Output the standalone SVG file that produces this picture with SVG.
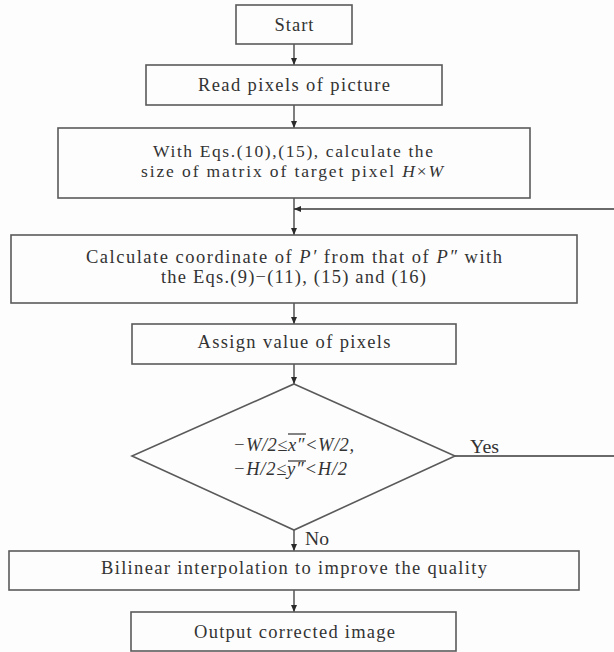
<svg xmlns="http://www.w3.org/2000/svg" width="614" height="652" viewBox="0 0 614 652">
<style>
.box{fill:#fdfdfd;stroke:#5a5a5a;stroke-width:1.6}
.t{font-family:"Liberation Serif","Times New Roman",serif;font-size:18.5px;fill:#333;text-anchor:middle}
.tl{font-family:"Liberation Serif","Times New Roman",serif;font-size:18.5px;fill:#333}
.s{font-size:17.5px}
.i{font-style:italic}
.c{fill:none;stroke:#3a3a3a;stroke-width:1.3}
</style>
<defs>
<marker id="ah" markerUnits="userSpaceOnUse" markerWidth="8" markerHeight="8" refX="7" refY="4" orient="auto">
<path d="M0,1 L7,4 L0,7 Z" fill="#2a2a2a"/>
</marker>
</defs>
<rect width="614" height="652" fill="#fdfdfd"/>
<g id="connectors">
<line class="c" x1="294" y1="44" x2="294" y2="65" marker-end="url(#ah)"/>
<line class="c" x1="294" y1="105" x2="294" y2="128" marker-end="url(#ah)"/>
<line class="c" x1="294" y1="198" x2="294" y2="235" marker-end="url(#ah)"/>
<line class="c" x1="294" y1="303" x2="294" y2="324" marker-end="url(#ah)"/>
<line class="c" x1="294" y1="364" x2="294" y2="384" marker-end="url(#ah)"/>
<line class="c" x1="294" y1="530" x2="294" y2="551" marker-end="url(#ah)"/>
<line class="c" x1="294" y1="590" x2="294" y2="612" marker-end="url(#ah)"/>
<path class="c" d="M455,456 H616 V209 H294" marker-end="url(#ah)"/>
<text class="tl" x="470" y="453" textLength="29" lengthAdjust="spacingAndGlyphs">Yes</text>
<text class="tl" x="305" y="545" textLength="24" lengthAdjust="spacingAndGlyphs">No</text>
</g>
<g id="start">
<rect class="box" x="236" y="5" width="116" height="39"/>
<text class="t" x="294" y="31" textLength="39">Start</text>
</g>
<g id="read">
<rect class="box" x="146" y="65" width="296" height="40"/>
<text class="t" x="294" y="91" textLength="192">Read pixels of picture</text>
</g>
<g id="size">
<rect class="box" x="58" y="128" width="472" height="70"/>
<text class="t s" x="293" y="157" textLength="280">With Eqs.(10),(15), calculate the</text>
<text class="t s" x="292" y="177" textLength="302">size of matrix of target pixel <tspan class="i">H</tspan>×<tspan class="i">W</tspan></text>
</g>
<g id="calc">
<rect class="box" x="11" y="235" width="566" height="68"/>
<text class="t" x="294" y="263" textLength="416">Calculate coordinate of <tspan class="i">P′</tspan> from that of <tspan class="i">P″</tspan> with</text>
<text class="t" x="293.5" y="283" textLength="265">the Eqs.(9)−(11), (15) and (16)</text>
</g>
<g id="assign">
<rect class="box" x="132" y="324" width="324" height="40"/>
<text class="t" x="294" y="348" textLength="193">Assign value of pixels</text>
</g>
<g id="decision">
<polygon class="box" points="294,384 455,456 294,530 132,456"/>
<text class="tl i" x="233" y="451" textLength="121">−W/2≤x″&lt;W/2,</text>
<text class="tl i" x="233" y="475" textLength="114">−H/2≤y″&lt;H/2</text>
<line x1="288" y1="434" x2="306" y2="434" stroke="#333" stroke-width="1.2"/>
<line x1="288" y1="461" x2="306" y2="461" stroke="#333" stroke-width="1.2"/>
</g>
<g id="bilinear">
<rect class="box" x="9" y="551" width="570" height="39"/>
<text class="t" x="294" y="574" textLength="386">Bilinear interpolation to improve the quality</text>
</g>
<g id="output">
<rect class="box" x="131" y="612" width="325" height="39"/>
<text class="t" x="294.5" y="638" textLength="201">Output corrected image</text>
</g>
</svg>
